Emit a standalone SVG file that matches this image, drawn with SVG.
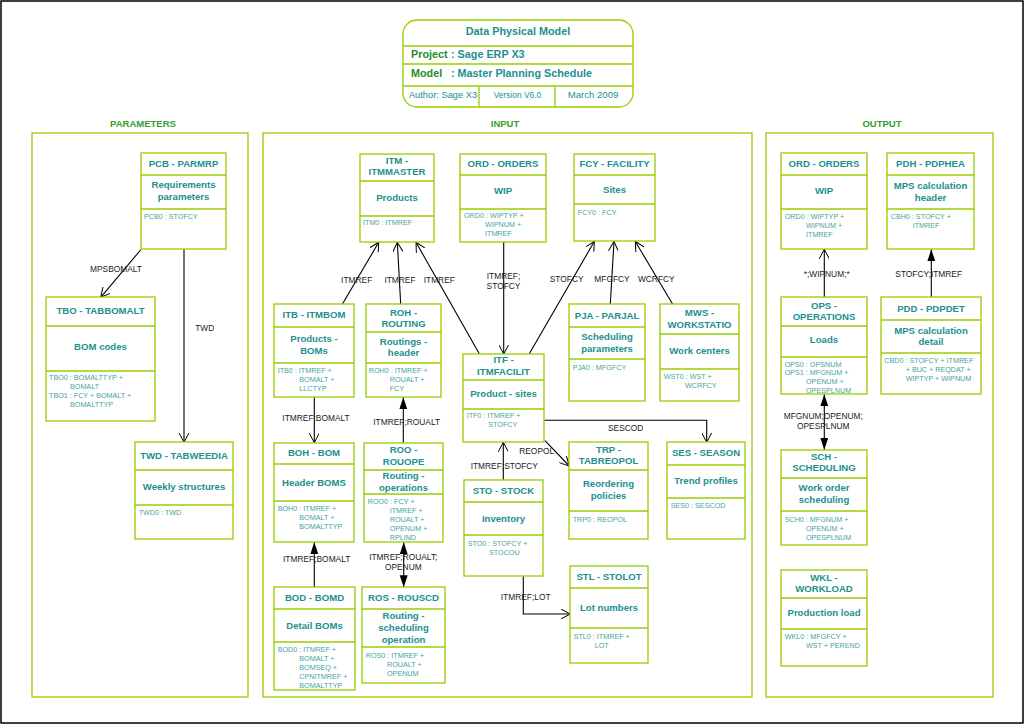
<svg xmlns="http://www.w3.org/2000/svg" width="1025" height="725" viewBox="0 0 1025 725">
<style>
.bx{fill:#fff;stroke:#99CC00;stroke-width:1.3}
.dv{stroke:#99CC00;stroke-width:1.3}
.sec{fill:none;stroke:#99CC00;stroke-width:1.3}
.t{font-family:"Liberation Sans",Arial,sans-serif;font-size:9.6px;font-weight:bold;fill:#22908F;text-anchor:middle}
.k{font-family:"Liberation Sans",Arial,sans-serif;font-size:7.2px;fill:#45A3A3}
.l{font-family:"Liberation Sans",Arial,sans-serif;font-size:8.4px;fill:#1a1a1a;text-anchor:middle}
.st{font-family:"Liberation Sans",Arial,sans-serif;font-size:9.5px;font-weight:bold;fill:#33A02C;text-anchor:middle}
.c{fill:none;stroke:#000;stroke-width:1.1}
.o{marker-end:url(#open)}
.f{marker-end:url(#fill)}
.ff{marker-start:url(#fill);marker-end:url(#fill)}
.h{font-family:"Liberation Sans",Arial,sans-serif;font-weight:bold;font-size:10.8px}
.hs{font-family:"Liberation Sans",Arial,sans-serif;fill:#22908F;text-anchor:middle}
</style>
<defs>
<marker id="open" viewBox="0 0 10 10" refX="9.5" refY="5" markerWidth="10" markerHeight="10" markerUnits="userSpaceOnUse" orient="auto"><path d="M0,0 L9.5,5 L0,10" fill="none" stroke="#000" stroke-width="1"/></marker>
<marker id="fill" viewBox="0 0 12 10" refX="12" refY="5" markerWidth="12" markerHeight="10" markerUnits="userSpaceOnUse" orient="auto-start-reverse"><path d="M0,1 L12,5 L0,9 z" fill="#000"/></marker>
</defs>
<rect x="1" y="1" width="1022" height="722" fill="#fff" stroke="#000" stroke-width="1.5"/>

<g id="header">
<rect x="403" y="20" width="230" height="87" rx="14" class="bx"/>
<line x1="403" y1="46" x2="633" y2="46" class="dv"/>
<line x1="403" y1="64" x2="633" y2="64" class="dv"/>
<line x1="403" y1="86" x2="633" y2="86" class="dv"/>
<line x1="479" y1="86" x2="479" y2="107" class="dv"/>
<line x1="555" y1="86" x2="555" y2="107" class="dv"/>
<text x="518" y="34.5" class="h" fill="#22908F" text-anchor="middle" font-size="10.5">Data Physical Model</text>
<text x="411" y="57.8" class="h"><tspan fill="#2A8A2A">Project</tspan><tspan x="451" fill="#22908F">: Sage ERP X3</tspan></text>
<text x="411" y="77.1" class="h"><tspan fill="#2A8A2A">Model</tspan><tspan x="451" fill="#22908F">: Master Planning Schedule</tspan></text>
<text x="443" y="98.2" class="hs" font-size="9.3">Author: Sage X3</text>
<text x="517.5" y="98.2" class="hs" font-size="8.4">Version V6.0</text>
<text x="593" y="98.2" class="hs" font-size="9.6">March 2009</text>
</g>

<g id="sections">
<rect x="32" y="133" width="216" height="564" class="sec"/>
<rect x="263" y="133" width="489" height="564" class="sec"/>
<rect x="766" y="133" width="227" height="564" class="sec"/>
<text x="143" y="127.4" class="st">PARAMETERS</text>
<text x="505" y="127.4" class="st">INPUT</text>
<text x="882" y="127.4" class="st">OUTPUT</text>
</g>

<g id="connectors">
<path d="M141,249.5 L100.7,297.3" class="c o"/>
<path d="M184,249.3 L184,442.3" class="c o"/>
<path d="M342.3,304.3 L378.7,242.3" class="c o"/>
<path d="M400.7,304.3 L397.3,242.3" class="c o"/>
<path d="M479.3,353.7 L416,242.3" class="c o"/>
<path d="M503.7,242 L503.7,354" class="c o"/>
<path d="M529.3,353.7 L594.3,241.5" class="c o"/>
<path d="M610.3,304.3 L614,241.5" class="c o"/>
<path d="M672.7,304.3 L635.3,241.5" class="c o"/>
<path d="M314.3,397.3 L314.3,442.7" class="c o"/>
<path d="M403.3,442.7 L403.3,397.3" class="c f"/>
<path d="M314.3,587.3 L314.3,542.3" class="c f"/>
<path d="M403.7,542.3 L403.7,587.3" class="c ff"/>
<path d="M503.3,480.3 L503.3,442.3" class="c o"/>
<path d="M545,440.7 L569.3,466" class="c o"/>
<path d="M544.3,420.3 L706.7,420.3 L706.7,442.3" class="c o"/>
<path d="M523.3,576.3 L523.3,614 L570.3,614" class="c o"/>
<path d="M824.3,297.3 L824.3,249.3" class="c o"/>
<path d="M931.3,297.3 L931.3,249.3" class="c f"/>
<path d="M824.3,394.3 L824.3,449.7" class="c ff"/>
<text x="116" y="272" class="l">MPSBOMALT</text>
<text x="204.7" y="331" class="l">TWD</text>
<text x="356.7" y="283.3" class="l">ITMREF</text>
<text x="400" y="283.3" class="l">ITMREF</text>
<text x="439.3" y="283.3" class="l">ITMREF</text>
<text x="503.5" y="278.7" class="l">ITMREF;</text>
<text x="503.5" y="288.7" class="l">STOFCY</text>
<text x="566.7" y="282" class="l">STOFCY</text>
<text x="612" y="282" class="l">MFGFCY</text>
<text x="656.3" y="282" class="l">WCRFCY</text>
<text x="316" y="420.7" class="l">ITMREF;BOMALT</text>
<text x="406.7" y="424.7" class="l">ITMREF;ROUALT</text>
<text x="316.7" y="562.3" class="l">ITMREF;BOMALT</text>
<text x="403.3" y="560.3" class="l">ITMREF;ROUALT;</text>
<text x="403.3" y="569.7" class="l">OPENUM</text>
<text x="504.3" y="468.7" class="l">ITMREF;STOFCY</text>
<text x="536.7" y="454" class="l">REOPOL</text>
<text x="625.7" y="430.7" class="l">SESCOD</text>
<text x="525.7" y="599.7" class="l">ITMREF;LOT</text>
<text x="826.7" y="276.7" class="l">*;WIPNUM;*</text>
<text x="928.7" y="276.7" class="l">STOFCY;ITMREF</text>
<text x="823.3" y="418.7" class="l">MFGNUM;OPENUM;</text>
<text x="823.3" y="428.7" class="l">OPESPLNUM</text>
</g>

<g id="PCB">
<rect x="141" y="153" width="85" height="96" class="bx"/>
<line x1="141" y1="175" x2="226" y2="175" class="dv"/><line x1="141" y1="209" x2="226" y2="209" class="dv"/>
<text x="183.5" y="166.7" class="t">PCB - PARMRP</text>
<text x="183.5" y="188.4" class="t">Requirements</text>
<text x="183.5" y="200.4" class="t">parameters</text>
<text x="144" y="218.6" class="k">PCB0 : STOFCY</text>
</g>

<g id="TBO">
<rect x="46" y="297" width="109" height="124" class="bx"/>
<line x1="46" y1="326" x2="155" y2="326" class="dv"/><line x1="46" y1="371" x2="155" y2="371" class="dv"/>
<text x="100.5" y="314" class="t">TBO - TABBOMALT</text>
<text x="100.5" y="350.4" class="t">BOM codes</text>
<text x="49" y="380" class="k">TBO0 : BOMALTTYP +</text>
<text x="70" y="389" class="k">BOMALT</text>
<text x="49" y="398" class="k">TBO1 : FCY + BOMALT +</text>
<text x="70" y="407" class="k">BOMALTTYP</text>
</g>

<g id="TWD">
<rect x="135" y="442" width="98" height="97" class="bx"/>
<line x1="135" y1="470" x2="233" y2="470" class="dv"/><line x1="135" y1="505" x2="233" y2="505" class="dv"/>
<text x="184" y="459" class="t">TWD - TABWEEDIA</text>
<text x="184" y="490" class="t">Weekly structures</text>
<text x="138.7" y="514.6" class="k">TWD0 : TWD</text>
</g>

<g id="ITM">
<rect x="360" y="154" width="74" height="88" class="bx"/>
<line x1="360" y1="181" x2="434" y2="181" class="dv"/><line x1="360" y1="216" x2="434" y2="216" class="dv"/>
<text x="397" y="164" class="t">ITM -</text>
<text x="397" y="175.4" class="t">ITMMASTER</text>
<text x="397" y="200.7" class="t">Products</text>
<text x="363" y="225.3" class="k">ITM0 : ITMREF</text>
</g>

<g id="ORD_IN">
<rect x="460" y="154" width="86" height="88" class="bx"/>
<line x1="460" y1="175" x2="546" y2="175" class="dv"/><line x1="460" y1="209" x2="546" y2="209" class="dv"/>
<text x="503" y="167" class="t">ORD - ORDERS</text>
<text x="503" y="194.4" class="t">WIP</text>
<text x="464" y="218.3" class="k">ORD0 : WIPTYP +</text>
<text x="485" y="227.3" class="k">WIPNUM +</text>
<text x="485" y="236.3" class="k">ITMREF</text>
</g>

<g id="FCY">
<rect x="574" y="154" width="81" height="87" class="bx"/>
<line x1="574" y1="175" x2="655" y2="175" class="dv"/><line x1="574" y1="204" x2="655" y2="204" class="dv"/>
<text x="614.5" y="167.1" class="t">FCY - FACILITY</text>
<text x="614.5" y="193.1" class="t">Sites</text>
<text x="577.7" y="214.6" class="k">FCY0 : FCY</text>
</g>

<g id="ITB">
<rect x="274" y="304" width="80" height="93" class="bx"/>
<line x1="274" y1="327" x2="354" y2="327" class="dv"/><line x1="274" y1="363" x2="354" y2="363" class="dv"/>
<text x="314" y="318.4" class="t">ITB - ITMBOM</text>
<text x="314" y="342.4" class="t">Products -</text>
<text x="314" y="354.1" class="t">BOMs</text>
<text x="277.7" y="373.3" class="k">ITB0 : ITMREF +</text>
<text x="299.3" y="382.3" class="k">BOMALT +</text>
<text x="299.3" y="391.3" class="k">LLCTYP</text>
</g>

<g id="ROH">
<rect x="366" y="304" width="75" height="93" class="bx"/>
<line x1="366" y1="332" x2="441" y2="332" class="dv"/><line x1="366" y1="363" x2="441" y2="363" class="dv"/>
<text x="403.5" y="315.7" class="t">ROH -</text>
<text x="403.5" y="327.1" class="t">ROUTING</text>
<text x="403.5" y="345.1" class="t">Routings -</text>
<text x="403.5" y="356.1" class="t">header</text>
<text x="368.7" y="373.3" class="k">ROH0 : ITMREF +</text>
<text x="389.7" y="382.3" class="k">ROUALT +</text>
<text x="389.7" y="391.3" class="k">FCY</text>
</g>

<g id="ITF">
<rect x="463" y="354" width="81" height="88" class="bx"/>
<line x1="463" y1="380" x2="544" y2="380" class="dv"/><line x1="463" y1="409" x2="544" y2="409" class="dv"/>
<text x="503.5" y="363.4" class="t">ITF -</text>
<text x="503.5" y="375.1" class="t">ITMFACILIT</text>
<text x="503.5" y="397.1" class="t">Product - sites</text>
<text x="466.7" y="417.9" class="k">ITF0 : ITMREF +</text>
<text x="488.3" y="426.9" class="k">STOFCY</text>
</g>

<g id="PJA">
<rect x="569" y="304" width="76" height="97" class="bx"/>
<line x1="569" y1="327" x2="645" y2="327" class="dv"/><line x1="569" y1="359" x2="645" y2="359" class="dv"/>
<text x="607" y="318.7" class="t">PJA - PARJAL</text>
<text x="607" y="340.4" class="t">Scheduling</text>
<text x="607" y="352.4" class="t">parameters</text>
<text x="572.7" y="369.9" class="k">PJA0 : MFGFCY</text>
</g>

<g id="MWS">
<rect x="660" y="304" width="79" height="97" class="bx"/>
<line x1="660" y1="334" x2="739" y2="334" class="dv"/><line x1="660" y1="369" x2="739" y2="369" class="dv"/>
<text x="699.5" y="316.1" class="t">MWS -</text>
<text x="699.5" y="327.7" class="t">WORKSTATIO</text>
<text x="699.5" y="353.7" class="t">Work centers</text>
<text x="663.7" y="378.9" class="k">WST0 : WST +</text>
<text x="685" y="387.9" class="k">WCRFCY</text>
</g>

<g id="BOH">
<rect x="274" y="443" width="80" height="99" class="bx"/>
<line x1="274" y1="464" x2="354" y2="464" class="dv"/><line x1="274" y1="501" x2="354" y2="501" class="dv"/>
<text x="314" y="456.1" class="t">BOH - BOM</text>
<text x="314" y="485.7" class="t">Header BOMS</text>
<text x="277.7" y="511.3" class="k">BOH0 : ITMREF +</text>
<text x="299.3" y="520.3" class="k">BOMALT +</text>
<text x="299.3" y="529.3" class="k">BOMALTTYP</text>
</g>

<g id="ROO">
<rect x="364" y="443" width="79" height="99" class="bx"/>
<line x1="364" y1="470" x2="443" y2="470" class="dv"/><line x1="364" y1="494" x2="443" y2="494" class="dv"/>
<text x="403.5" y="453.4" class="t">ROO -</text>
<text x="403.5" y="464.7" class="t">ROUOPE</text>
<text x="403.5" y="479.4" class="t">Routing -</text>
<text x="403.5" y="491.1" class="t">operations</text>
<text x="367.7" y="503.9" class="k">ROO0 : FCY +</text>
<text x="389.7" y="512.9" class="k">ITMREF +</text>
<text x="389.7" y="521.9" class="k">ROUALT +</text>
<text x="389.7" y="530.9" class="k">OPENUM +</text>
<text x="389.7" y="539.9" class="k">RPLIND</text>
</g>

<g id="STO">
<rect x="464" y="480" width="79" height="96" class="bx"/>
<line x1="464" y1="502" x2="543" y2="502" class="dv"/><line x1="464" y1="535" x2="543" y2="535" class="dv"/>
<text x="503.5" y="494.1" class="t">STO - STOCK</text>
<text x="503.5" y="522.1" class="t">Inventory</text>
<text x="467.7" y="545.9" class="k">STO0 : STOFCY +</text>
<text x="489" y="554.9" class="k">STOCOU</text>
</g>

<g id="BOD">
<rect x="274" y="587" width="81" height="103" class="bx"/>
<line x1="274" y1="609" x2="355" y2="609" class="dv"/><line x1="274" y1="642" x2="355" y2="642" class="dv"/>
<text x="314.5" y="600.7" class="t">BOD - BOMD</text>
<text x="314.5" y="628.7" class="t">Detail BOMs</text>
<text x="277.7" y="651.9" class="k">BOD0 : ITMREF +</text>
<text x="299.3" y="660.9" class="k">BOMALT +</text>
<text x="299.3" y="669.9" class="k">BOMSEQ +</text>
<text x="299.3" y="678.9" class="k">CPNITMREF +</text>
<text x="299.3" y="687.9" class="k">BOMALTTYP</text>
</g>

<g id="ROS">
<rect x="362" y="587" width="83" height="96" class="bx"/>
<line x1="362" y1="609" x2="445" y2="609" class="dv"/><line x1="362" y1="647" x2="445" y2="647" class="dv"/>
<text x="403.5" y="600.7" class="t">ROS - ROUSCD</text>
<text x="403.5" y="619.4" class="t">Routing -</text>
<text x="403.5" y="631.4" class="t">scheduling</text>
<text x="403.5" y="643.4" class="t">operation</text>
<text x="365.7" y="657.9" class="k">ROS0 : ITMREF +</text>
<text x="387" y="666.9" class="k">ROUALT +</text>
<text x="387" y="675.9" class="k">OPENUM</text>
</g>

<g id="TRP">
<rect x="569" y="442" width="79" height="97" class="bx"/>
<line x1="569" y1="470" x2="648" y2="470" class="dv"/><line x1="569" y1="511" x2="648" y2="511" class="dv"/>
<text x="608.5" y="453.1" class="t">TRP -</text>
<text x="608.5" y="464.4" class="t">TABREOPOL</text>
<text x="608.5" y="487.4" class="t">Reordering</text>
<text x="608.5" y="499.1" class="t">policies</text>
<text x="572.7" y="521.6" class="k">TRP0 : REOPOL</text>
</g>

<g id="SES">
<rect x="667" y="442" width="78" height="97" class="bx"/>
<line x1="667" y1="465" x2="745" y2="465" class="dv"/><line x1="667" y1="498" x2="745" y2="498" class="dv"/>
<text x="706" y="456.4" class="t">SES - SEASON</text>
<text x="706" y="483.7" class="t">Trend profiles</text>
<text x="670.7" y="507.9" class="k">SES0 : SESCOD</text>
</g>

<g id="STL">
<rect x="570" y="566" width="78" height="97" class="bx"/>
<line x1="570" y1="588" x2="648" y2="588" class="dv"/><line x1="570" y1="628" x2="648" y2="628" class="dv"/>
<text x="609" y="580.1" class="t">STL - STOLOT</text>
<text x="609" y="611.4" class="t">Lot numbers</text>
<text x="573.7" y="638.9" class="k">STL0 : ITMREF +</text>
<text x="594.7" y="647.9" class="k">LOT</text>
</g>

<g id="ORD_OUT">
<rect x="781" y="153" width="86" height="96" class="bx"/>
<line x1="781" y1="175" x2="867" y2="175" class="dv"/><line x1="781" y1="209" x2="867" y2="209" class="dv"/>
<text x="824" y="166.7" class="t">ORD - ORDERS</text>
<text x="824" y="194.1" class="t">WIP</text>
<text x="784.7" y="218.6" class="k">ORD0 : WIPTYP +</text>
<text x="806" y="227.6" class="k">WIPNUM +</text>
<text x="806" y="236.6" class="k">ITMREF</text>
</g>

<g id="PDH">
<rect x="887" y="153" width="87" height="96" class="bx"/>
<line x1="887" y1="175" x2="974" y2="175" class="dv"/><line x1="887" y1="209" x2="974" y2="209" class="dv"/>
<text x="930.5" y="166.7" class="t">PDH - PDPHEA</text>
<text x="930.5" y="189.1" class="t">MPS calculation</text>
<text x="930.5" y="200.7" class="t">header</text>
<text x="890.7" y="218.6" class="k">CBH0 : STOFCY +</text>
<text x="912.7" y="227.6" class="k">ITMREF</text>
</g>

<g id="OPS">
<rect x="781" y="297" width="86" height="97" class="bx"/>
<line x1="781" y1="326" x2="867" y2="326" class="dv"/><line x1="781" y1="357" x2="867" y2="357" class="dv"/>
<text x="824" y="308.7" class="t">OPS -</text>
<text x="824" y="320.1" class="t">OPERATIONS</text>
<text x="824" y="343.4" class="t">Loads</text>
<text x="784.7" y="366.6" class="k">OPS0 : OPSNUM</text>
<text x="784.7" y="375.3" class="k">OPS1 : MFGNUM +</text>
<text x="806" y="383.9" class="k">OPENUM +</text>
<text x="806" y="392.6" class="k">OPESPLNUM</text>
</g>

<g id="PDD">
<rect x="881" y="297" width="100" height="97" class="bx"/>
<line x1="881" y1="320" x2="981" y2="320" class="dv"/><line x1="881" y1="353" x2="981" y2="353" class="dv"/>
<text x="931" y="311.7" class="t">PDD - PDPDET</text>
<text x="931" y="333.7" class="t">MPS calculation</text>
<text x="931" y="345.1" class="t">detail</text>
<text x="884.3" y="362.9" class="k">CBD0 : STOFCY + ITMREF</text>
<text x="905.7" y="371.9" class="k">+ BUC + REQDAT +</text>
<text x="905.7" y="380.9" class="k">WIPTYP + WIPNUM</text>
</g>

<g id="SCH">
<rect x="781" y="450" width="86" height="95" class="bx"/>
<line x1="781" y1="478" x2="867" y2="478" class="dv"/><line x1="781" y1="511" x2="867" y2="511" class="dv"/>
<text x="824" y="460.1" class="t">SCH -</text>
<text x="824" y="471.4" class="t">SCHEDULING</text>
<text x="824" y="491.1" class="t">Work order</text>
<text x="824" y="502.7" class="t">scheduling</text>
<text x="784.7" y="521.6" class="k">SCH0 : MFGNUM +</text>
<text x="806" y="530.6" class="k">OPENUM +</text>
<text x="806" y="539.6" class="k">OPESPLNUM</text>
</g>

<g id="WKL">
<rect x="781" y="570" width="86" height="96" class="bx"/>
<line x1="781" y1="598" x2="867" y2="598" class="dv"/><line x1="781" y1="629" x2="867" y2="629" class="dv"/>
<text x="824" y="580.7" class="t">WKL -</text>
<text x="824" y="592.1" class="t">WORKLOAD</text>
<text x="824" y="615.7" class="t">Production load</text>
<text x="784.7" y="638.9" class="k">WKL0 : MFGFCY +</text>
<text x="806" y="647.9" class="k">WST + PEREND</text>
</g>
</svg>
